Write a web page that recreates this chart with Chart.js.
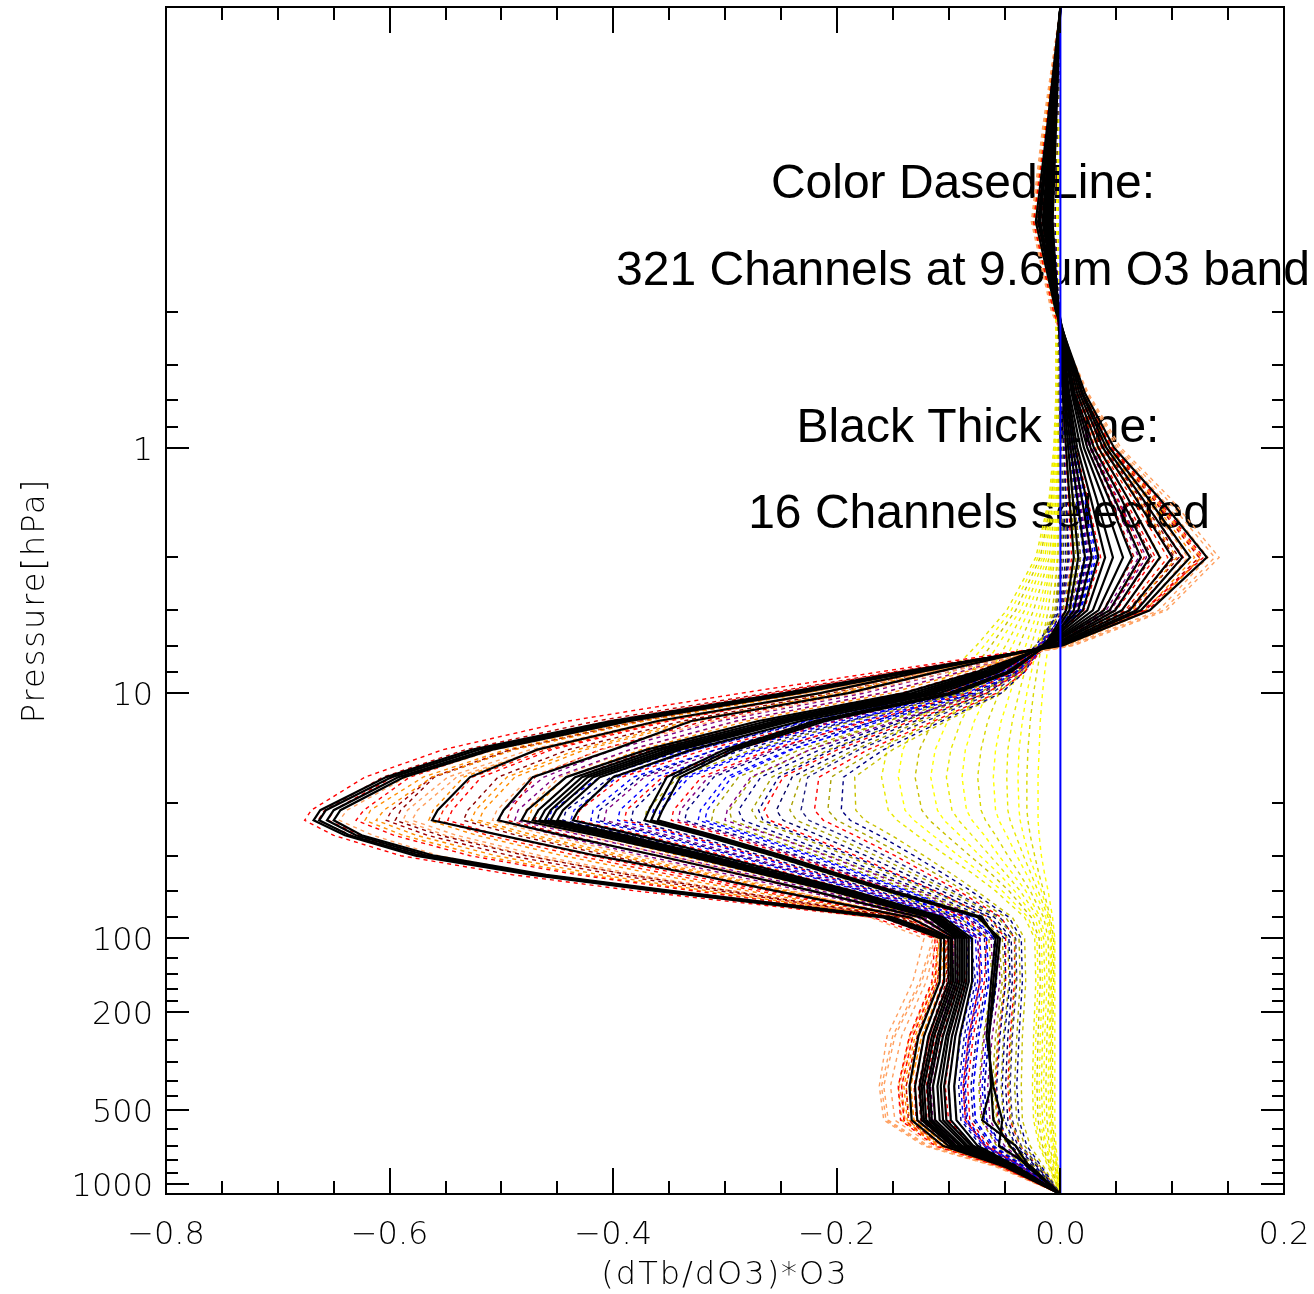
<!DOCTYPE html>
<html>
<head>
<meta charset="utf-8">
<title>O3 Jacobians</title>
<script src="https://cdn.jsdelivr.net/npm/chart.js@4.4.0/dist/chart.umd.min.js"></script>
<style>
  body { margin: 0; background: #fff; }
  canvas { display: block; }
</style>
</head>
<body>
<canvas id="jac" width="1314" height="1294"></canvas>
<script>
// pressure levels (hPa) shared by every profile
const pressure = [0.016, 0.05, 0.12, 0.28, 0.6, 1, 1.6, 2.8, 4.6, 6.4, 8.2, 10, 13, 17, 22, 30, 33, 38, 46, 55, 64, 82, 100, 150, 250, 400, 550, 700, 850, 1100];

// 16 selected channels, (dTb/dO3)*O3 at each level
const selectedProfiles = [
  [0,-.012,-.022,-.004,.022,.048,.088,.131,.080,.002,-.141,-.247,-.402,-.526,-.603,-.662,-.668,-.640,-.577,-.474,-.362,-.159,-.107,-.108,-.127,-.135,-.133,-.105,-.050,0],
  [0,-.011,-.020,-.003,.020,.044,.078,.116,.072,.000,-.138,-.243,-.396,-.520,-.598,-.657,-.663,-.636,-.572,-.470,-.358,-.156,-.104,-.104,-.122,-.130,-.128,-.100,-.048,0],
  [0,-.010,-.019,-.003,.019,.041,.073,.109,.068,-.002,-.135,-.238,-.390,-.513,-.592,-.650,-.656,-.630,-.566,-.465,-.352,-.152,-.100,-.100,-.118,-.126,-.124,-.097,-.046,0],
  [0,-.010,-.018,-.002,.017,.038,.067,.100,.062,-.004,-.132,-.234,-.385,-.508,-.587,-.644,-.650,-.625,-.560,-.460,-.348,-.150,-.097,-.096,-.113,-.122,-.120,-.094,-.045,0],
  [0,-.009,-.016,-.002,.015,.034,.060,.089,.055,-.006,-.125,-.215,-.360,-.468,-.528,-.557,-.562,-.500,-.415,-.325,-.255,-.135,-.098,-.098,-.115,-.124,-.122,-.096,-.047,0],
  [0,-.009,-.015,-.002,.013,.030,.054,.080,.049,-.007,-.110,-.190,-.330,-.400,-.472,-.498,-.503,-.445,-.360,-.285,-.222,-.125,-.094,-.094,-.110,-.119,-.117,-.093,-.046,0],
  [0,-.008,-.014,-.002,.012,.027,.048,.072,.044,-.010,-.075,-.140,-.270,-.370,-.442,-.477,-.482,-.415,-.335,-.265,-.205,-.118,-.092,-.092,-.108,-.117,-.115,-.090,-.045,0],
  [0,-.008,-.013,-.002,.011,.024,.043,.064,.039,-.011,-.070,-.133,-.262,-.362,-.434,-.467,-.472,-.408,-.330,-.262,-.202,-.116,-.090,-.090,-.105,-.114,-.112,-.088,-.044,0],
  [0,-.007,-.012,-.001,.010,.021,.038,.056,.034,-.012,-.066,-.127,-.255,-.356,-.428,-.461,-.466,-.402,-.326,-.258,-.199,-.114,-.088,-.088,-.102,-.110,-.108,-.085,-.043,0],
  [0,-.007,-.012,-.001,.008,.018,.032,.047,.029,-.013,-.063,-.122,-.250,-.350,-.423,-.456,-.461,-.398,-.322,-.255,-.196,-.112,-.086,-.086,-.100,-.107,-.105,-.083,-.042,0],
  [0,-.006,-.011,-.001,.007,.015,.027,.040,.024,-.014,-.060,-.118,-.245,-.345,-.418,-.451,-.456,-.394,-.318,-.252,-.193,-.110,-.084,-.084,-.097,-.104,-.102,-.080,-.041,0],
  [0,-.006,-.011,-.001,.006,.013,.023,.034,.020,-.015,-.058,-.114,-.240,-.340,-.412,-.445,-.450,-.389,-.314,-.248,-.190,-.108,-.082,-.082,-.094,-.100,-.098,-.078,-.040,0],
  [0,-.006,-.010,-.001,.005,.011,.019,.028,.016,-.016,-.055,-.108,-.232,-.330,-.400,-.431,-.436,-.378,-.306,-.242,-.186,-.105,-.079,-.079,-.090,-.095,-.093,-.074,-.039,0],
  [0,-.005,-.009,-.002,.004,.009,.015,.022,.012,-.012,-.048,-.100,-.220,-.300,-.352,-.368,-.372,-.320,-.257,-.203,-.155,-.074,-.054,-.058,-.064,-.062,-.060,-.045,-.030,0],
  [0,-.005,-.008,-.002,.003,.007,.011,.016,.008,-.013,-.046,-.097,-.215,-.295,-.346,-.362,-.366,-.315,-.252,-.199,-.152,-.072,-.056,-.060,-.064,-.062,-.070,-.040,-.028,0],
  [0,-.004,-.007,-.002,.002,.005,.008,.012,.005,-.014,-.044,-.094,-.210,-.290,-.340,-.356,-.360,-.310,-.248,-.196,-.150,-.070,-.058,-.062,-.066,-.060,-.052,-.055,-.026,0]
];

// the 9.6um band channels, grouped by strength
const strongChannels = [
  [0,-.013,-.024,-.006,.020,.046,.086,.128,.074,-.004,-.162,-.285,-.440,-.552,-.622,-.670,-.676,-.650,-.590,-.490,-.380,-.168,-.112,-.115,-.135,-.145,-.143,-.112,-.054,0],
  [0,-.012,-.021,-.004,.020,.045,.082,.124,.076,.001,-.150,-.262,-.415,-.532,-.606,-.658,-.664,-.634,-.570,-.468,-.356,-.158,-.106,-.110,-.128,-.138,-.136,-.106,-.052,0],
  [0,-.016,-.026,-.008,.025,.054,.098,.142,.095,.012,-.120,-.228,-.382,-.505,-.585,-.638,-.645,-.615,-.556,-.462,-.358,-.170,-.122,-.132,-.155,-.162,-.158,-.122,-.058,0],
  [0,-.011,-.020,-.004,.018,.040,.073,.110,.066,-.003,-.140,-.250,-.392,-.508,-.582,-.623,-.630,-.596,-.528,-.432,-.328,-.150,-.103,-.105,-.122,-.130,-.128,-.100,-.049,0],
  [0,-.014,-.024,-.006,.021,.046,.084,.126,.080,.004,-.128,-.228,-.372,-.488,-.562,-.605,-.612,-.576,-.505,-.412,-.315,-.150,-.108,-.114,-.135,-.145,-.142,-.110,-.053,0],
  [0,-.010,-.018,-.003,.017,.037,.068,.102,.060,-.004,-.132,-.230,-.375,-.490,-.560,-.590,-.595,-.555,-.478,-.386,-.296,-.142,-.100,-.101,-.117,-.125,-.123,-.097,-.047,0],
  [0,-.015,-.025,-.007,.024,.052,.094,.138,.092,.010,-.115,-.210,-.355,-.465,-.540,-.575,-.580,-.540,-.465,-.378,-.292,-.150,-.112,-.124,-.148,-.158,-.154,-.118,-.056,0],
  [0,-.013,-.022,-.005,.019,.042,.077,.116,.072,.002,-.122,-.215,-.358,-.466,-.534,-.561,-.565,-.522,-.445,-.360,-.280,-.142,-.104,-.110,-.130,-.140,-.137,-.106,-.051,0],
  [0,-.010,-.018,-.003,.014,.031,.057,.085,.050,-.006,-.124,-.214,-.350,-.455,-.518,-.544,-.548,-.502,-.420,-.336,-.262,-.136,-.100,-.100,-.117,-.126,-.124,-.097,-.047,0],
  [0,-.009,-.017,-.003,.014,.030,.055,.082,.048,-.007,-.118,-.205,-.338,-.440,-.503,-.530,-.534,-.486,-.404,-.322,-.252,-.134,-.098,-.099,-.115,-.124,-.122,-.095,-.046,0],
  [0,-.012,-.021,-.005,.017,.038,.069,.104,.064,.000,-.110,-.196,-.326,-.425,-.488,-.516,-.520,-.470,-.390,-.310,-.244,-.134,-.102,-.108,-.128,-.138,-.135,-.104,-.050,0],
  [0,-.014,-.024,-.006,.021,.046,.083,.124,.080,.006,-.100,-.182,-.310,-.410,-.474,-.504,-.508,-.458,-.380,-.304,-.240,-.138,-.110,-.120,-.142,-.152,-.148,-.114,-.054,0],
  [0,-.009,-.016,-.002,.012,.027,.050,.075,.044,-.008,-.108,-.188,-.318,-.412,-.470,-.492,-.495,-.440,-.362,-.287,-.224,-.126,-.096,-.097,-.112,-.120,-.118,-.093,-.046,0],
  [0,-.008,-.015,-.002,.012,.026,.047,.070,.041,-.009,-.090,-.160,-.290,-.385,-.452,-.485,-.488,-.428,-.350,-.276,-.214,-.122,-.092,-.093,-.108,-.116,-.114,-.090,-.045,0],
  [0,-.011,-.019,-.004,.015,.033,.060,.090,.055,-.004,-.085,-.152,-.280,-.375,-.442,-.473,-.476,-.416,-.340,-.268,-.208,-.122,-.098,-.104,-.124,-.134,-.131,-.101,-.049,0],
  [0,-.008,-.014,-.002,.011,.024,.044,.066,.038,-.010,-.078,-.142,-.270,-.366,-.434,-.467,-.470,-.408,-.332,-.262,-.203,-.118,-.090,-.091,-.106,-.114,-.112,-.088,-.044,0],
  [0,-.012,-.022,-.005,.021,.046,.084,.126,.078,.003,-.146,-.256,-.404,-.522,-.597,-.650,-.655,-.626,-.562,-.462,-.350,-.160,-.110,-.112,-.132,-.142,-.140,-.110,-.053,0],
  [0,-.013,-.023,-.006,.020,.044,.080,.120,.076,.002,-.132,-.234,-.380,-.496,-.570,-.617,-.622,-.588,-.518,-.424,-.322,-.152,-.108,-.112,-.132,-.142,-.139,-.108,-.052,0],
  [0,-.010,-.018,-.003,.018,.039,.071,.106,.063,-.004,-.136,-.235,-.378,-.492,-.562,-.598,-.603,-.566,-.492,-.398,-.305,-.145,-.101,-.102,-.118,-.127,-.125,-.098,-.048,0],
  [0,-.015,-.025,-.007,.023,.050,.090,.132,.088,.008,-.118,-.216,-.362,-.474,-.548,-.584,-.588,-.550,-.475,-.386,-.298,-.152,-.114,-.126,-.150,-.160,-.156,-.120,-.057,0],
  [0,-.010,-.017,-.003,.016,.035,.064,.096,.058,-.004,-.124,-.214,-.354,-.460,-.526,-.552,-.556,-.512,-.432,-.348,-.271,-.139,-.102,-.104,-.122,-.131,-.129,-.100,-.048,0],
  [0,-.012,-.021,-.005,.017,.037,.067,.100,.061,-.002,-.114,-.200,-.332,-.432,-.495,-.523,-.527,-.478,-.397,-.316,-.248,-.134,-.100,-.105,-.124,-.134,-.131,-.101,-.049,0],
  [0,-.008,-.015,-.002,.013,.028,.051,.077,.045,-.008,-.100,-.175,-.305,-.400,-.462,-.498,-.502,-.450,-.372,-.296,-.230,-.128,-.095,-.096,-.110,-.118,-.116,-.091,-.045,0],
  [0,-.013,-.022,-.005,.019,.042,.076,.114,.072,.003,-.088,-.160,-.288,-.384,-.448,-.478,-.482,-.425,-.350,-.280,-.222,-.130,-.104,-.112,-.134,-.144,-.140,-.108,-.052,0]
];
const strongColors = ['#ff0000','#c00000','#ffa060','#ff0000','#ff8c00','#8b0000','#ffa060','#ff8c00',
                      '#ff0000','#8b0000','#ff8c00','#ffa060','#e00000','#800080','#ff8c00','#c00000',
                      '#ff0000','#ff8c00','#a00000','#ffa060','#ff2000','#ff8c00','#800080','#ffa060'];

const midChannels = [
  [0,-.006,-.010,-.002,.006,.013,.022,.032,.018,-.014,-.058,-.112,-.228,-.335,-.412,-.455,-.458,-.394,-.318,-.252,-.195,-.112,-.084,-.082,-.094,-.100,-.098,-.078,-.040,0],
  [0,-.005,-.009,-.001,.005,.011,.019,.027,.015,-.015,-.056,-.108,-.222,-.326,-.402,-.442,-.445,-.383,-.309,-.245,-.189,-.109,-.080,-.076,-.086,-.091,-.089,-.071,-.037,0],
  [0,-.006,-.010,-.002,.006,.014,.024,.036,.021,-.012,-.054,-.105,-.215,-.318,-.392,-.430,-.432,-.372,-.300,-.238,-.184,-.106,-.082,-.085,-.097,-.103,-.100,-.079,-.040,0],
  [0,-.005,-.009,-.001,.005,.012,.020,.030,.017,-.014,-.052,-.101,-.208,-.308,-.382,-.418,-.420,-.362,-.292,-.231,-.178,-.103,-.076,-.074,-.084,-.089,-.087,-.069,-.036,0],
  [0,-.005,-.009,-.001,.004,.010,.017,.026,.014,-.015,-.050,-.098,-.202,-.300,-.372,-.406,-.408,-.351,-.284,-.224,-.173,-.100,-.074,-.072,-.082,-.087,-.085,-.068,-.035,0],
  [0,-.005,-.009,-.001,.005,.011,.019,.028,.016,-.013,-.048,-.094,-.196,-.292,-.362,-.394,-.396,-.341,-.275,-.218,-.168,-.097,-.072,-.070,-.080,-.085,-.083,-.066,-.034,0],
  [0,-.004,-.008,-.001,.004,.009,.016,.024,.013,-.014,-.046,-.090,-.190,-.284,-.352,-.382,-.384,-.331,-.267,-.211,-.163,-.094,-.068,-.066,-.075,-.080,-.078,-.062,-.033,0],
  [0,-.004,-.008,-.002,.003,.007,.012,.018,.009,-.015,-.045,-.088,-.185,-.276,-.342,-.370,-.372,-.320,-.259,-.205,-.158,-.091,-.064,-.061,-.069,-.073,-.071,-.057,-.030,0],
  [0,-.004,-.008,-.001,.004,.009,.016,.024,.013,-.013,-.043,-.084,-.178,-.268,-.332,-.358,-.360,-.310,-.250,-.198,-.153,-.088,-.066,-.064,-.073,-.078,-.076,-.060,-.032,0],
  [0,-.005,-.009,-.002,.005,.011,.019,.028,.016,-.011,-.042,-.082,-.172,-.260,-.321,-.346,-.348,-.300,-.242,-.191,-.148,-.085,-.066,-.068,-.078,-.083,-.081,-.064,-.034,0],
  [0,-.004,-.007,-.001,.003,.007,.012,.018,.009,-.013,-.040,-.078,-.166,-.251,-.310,-.334,-.336,-.289,-.234,-.185,-.143,-.082,-.060,-.057,-.064,-.068,-.066,-.053,-.029,0],
  [0,-.004,-.007,-.001,.003,.008,.014,.021,.011,-.012,-.039,-.076,-.160,-.242,-.299,-.322,-.324,-.279,-.225,-.178,-.138,-.079,-.059,-.058,-.066,-.070,-.068,-.054,-.029,0],
  [0,-.004,-.007,-.002,.002,.005,.009,.014,.006,-.013,-.038,-.073,-.154,-.233,-.288,-.310,-.312,-.269,-.217,-.172,-.133,-.076,-.055,-.052,-.058,-.061,-.059,-.047,-.026,0],
  [0,-.004,-.007,-.001,.003,.007,.012,.018,.009,-.012,-.036,-.070,-.148,-.224,-.277,-.298,-.300,-.258,-.209,-.165,-.128,-.074,-.056,-.054,-.061,-.065,-.063,-.050,-.027,0],
  [0,-.006,-.010,-.002,.006,.013,.022,.032,.018,-.016,-.062,-.120,-.226,-.326,-.396,-.435,-.438,-.377,-.304,-.241,-.186,-.107,-.080,-.078,-.089,-.095,-.093,-.074,-.038,0],
  [0,-.005,-.009,-.001,.004,.010,.017,.025,.012,-.018,-.060,-.115,-.214,-.308,-.376,-.412,-.414,-.357,-.288,-.228,-.176,-.101,-.074,-.072,-.081,-.086,-.084,-.067,-.035,0],
  [0,-.005,-.009,-.002,.005,.011,.019,.028,.015,-.015,-.056,-.108,-.200,-.290,-.356,-.388,-.390,-.336,-.271,-.214,-.166,-.096,-.072,-.072,-.082,-.087,-.085,-.067,-.035,0],
  [0,-.004,-.008,-.001,.004,.009,.016,.024,.010,-.018,-.055,-.102,-.188,-.272,-.336,-.364,-.366,-.315,-.254,-.201,-.156,-.090,-.066,-.064,-.073,-.078,-.076,-.060,-.032,0],
  [0,-.004,-.008,-.001,.004,.009,.015,.022,.008,-.019,-.052,-.096,-.176,-.256,-.315,-.340,-.342,-.294,-.238,-.188,-.146,-.084,-.062,-.060,-.068,-.072,-.070,-.056,-.030,0],
  [0,-.004,-.007,-.001,.003,.007,.012,.018,.006,-.020,-.050,-.090,-.166,-.240,-.294,-.316,-.318,-.274,-.221,-.175,-.136,-.078,-.058,-.057,-.064,-.068,-.066,-.053,-.028,0],
  [0,-.003,-.006,-.002,.002,.005,.008,.012,.002,-.022,-.048,-.086,-.155,-.224,-.275,-.296,-.294,-.257,-.207,-.163,-.126,-.071,-.052,-.050,-.056,-.059,-.057,-.046,-.025,0],
  [0,-.003,-.005,-.002,.001,.003,.005,.007,.000,-.022,-.046,-.080,-.140,-.204,-.252,-.270,-.266,-.232,-.187,-.147,-.113,-.063,-.046,-.045,-.050,-.052,-.050,-.040,-.022,0]
];
const midColors = ['#0000ff','#000080','#ff0000','#0000ff','#800080','#0000ff','#000080',
                   '#a8a000','#0000ff','#ff0000','#000080','#0000ff','#a8a000','#800080',
                   '#2020ff','#000080','#ff0000','#0000ff','#800080','#0000ff','#a8a000','#000080'];

const weakChannels = [
  [0,-.003,-.006,-.002,.001,.003,.005,.008,.002,-.016,-.040,-.072,-.145,-.215,-.268,-.288,-.284,-.248,-.200,-.158,-.122,-.068,-.050,-.049,-.054,-.057,-.055,-.044,-.024,0],
  [0,-.003,-.006,-.002,.000,.002,.004,.006,.000,-.017,-.040,-.070,-.140,-.207,-.258,-.276,-.271,-.237,-.191,-.151,-.116,-.064,-.047,-.046,-.051,-.053,-.051,-.041,-.023,0],
  [0,-.003,-.005,-.002,.002,.004,.007,.010,.004,-.013,-.036,-.066,-.134,-.199,-.248,-.265,-.260,-.227,-.183,-.145,-.112,-.064,-.049,-.049,-.055,-.058,-.056,-.045,-.025,0],
  [0,-.003,-.005,-.002,.000,.002,.003,.005,-.001,-.017,-.038,-.066,-.130,-.192,-.240,-.254,-.248,-.216,-.174,-.137,-.106,-.059,-.044,-.043,-.047,-.049,-.047,-.038,-.021,0],
  [0,-.003,-.005,-.002,-.001,.000,.001,.002,-.004,-.019,-.038,-.064,-.125,-.184,-.232,-.242,-.236,-.205,-.165,-.130,-.100,-.056,-.041,-.040,-.044,-.046,-.044,-.036,-.020,0],
  [0,-.003,-.005,-.002,.000,.001,.002,.003,-.003,-.017,-.036,-.061,-.120,-.180,-.226,-.232,-.225,-.195,-.157,-.124,-.096,-.054,-.040,-.039,-.043,-.045,-.043,-.035,-.019,0],
  [0,-.003,-.005,-.002,.001,.003,.005,.007,.001,-.014,-.032,-.057,-.113,-.172,-.216,-.220,-.212,-.184,-.148,-.117,-.091,-.053,-.041,-.041,-.045,-.047,-.045,-.036,-.020,0],
  [0,-.003,-.005,-.002,-.001,-.001,.000,.000,-.005,-.018,-.034,-.056,-.110,-.165,-.205,-.208,-.200,-.173,-.140,-.110,-.086,-.049,-.037,-.036,-.039,-.041,-.039,-.032,-.018,0],
  [0,-.003,-.005,-.002,-.001,.000,.000,.001,-.004,-.017,-.032,-.053,-.106,-.158,-.194,-.196,-.188,-.162,-.131,-.103,-.080,-.046,-.035,-.034,-.037,-.039,-.037,-.030,-.017,0],
  [0,-.003,-.005,-.002,-.002,-.002,-.002,-.002,-.007,-.019,-.033,-.052,-.102,-.150,-.184,-.183,-.175,-.151,-.122,-.096,-.075,-.043,-.032,-.031,-.034,-.035,-.034,-.027,-.015,0]
];
const weakColors = ['#000080','#a8a000','#ff0000','#000060','#a8a000','#202080','#ff0000','#a8a000','#000080','#c8c000'];

const faintChannels = [
  [0,-.003,-.006,-.004,-.004,-.006,-.010,-.022,-.048,-.075,-.098,-.118,-.140,-.155,-.160,-.154,-.146,-.128,-.102,-.077,-.058,-.032,-.023,-.022,-.024,-.025,-.024,-.019,-.011,0],
  [0,-.003,-.006,-.004,-.004,-.005,-.009,-.020,-.044,-.068,-.088,-.106,-.127,-.141,-.145,-.139,-.131,-.114,-.091,-.069,-.052,-.029,-.021,-.020,-.022,-.023,-.022,-.018,-.010,0],
  [0,-.003,-.005,-.003,-.003,-.005,-.008,-.018,-.040,-.062,-.080,-.095,-.114,-.126,-.130,-.124,-.117,-.102,-.081,-.061,-.046,-.026,-.019,-.018,-.020,-.021,-.020,-.016,-.009,0],
  [0,-.003,-.005,-.003,-.003,-.004,-.007,-.016,-.036,-.056,-.072,-.085,-.101,-.112,-.116,-.110,-.104,-.090,-.072,-.054,-.041,-.023,-.017,-.016,-.018,-.019,-.018,-.014,-.008,0],
  [0,-.002,-.005,-.003,-.003,-.004,-.006,-.014,-.032,-.049,-.063,-.075,-.089,-.098,-.102,-.097,-.091,-.079,-.063,-.048,-.036,-.020,-.015,-.014,-.016,-.017,-.016,-.013,-.007,0],
  [0,-.002,-.004,-.003,-.003,-.003,-.005,-.012,-.028,-.043,-.055,-.065,-.077,-.085,-.088,-.084,-.079,-.068,-.055,-.042,-.031,-.018,-.013,-.012,-.014,-.015,-.014,-.011,-.006,0],
  [0,-.002,-.004,-.002,-.002,-.003,-.004,-.010,-.024,-.037,-.047,-.055,-.065,-.071,-.074,-.071,-.067,-.058,-.047,-.036,-.027,-.015,-.011,-.010,-.012,-.013,-.012,-.010,-.005,0],
  [0,-.002,-.003,-.002,-.002,-.002,-.003,-.008,-.020,-.031,-.039,-.045,-.053,-.058,-.060,-.058,-.055,-.048,-.039,-.030,-.023,-.013,-.009,-.009,-.010,-.011,-.010,-.008,-.004,0],
  [0,-.002,-.003,-.002,-.002,-.002,-.003,-.007,-.017,-.026,-.032,-.037,-.043,-.047,-.048,-.047,-.045,-.040,-.033,-.026,-.020,-.011,-.008,-.008,-.009,-.009,-.009,-.007,-.004,0],
  [0,-.001,-.003,-.002,-.002,-.002,-.002,-.006,-.014,-.021,-.026,-.030,-.034,-.037,-.038,-.037,-.036,-.033,-.028,-.022,-.017,-.010,-.007,-.007,-.008,-.008,-.008,-.006,-.003,0],
  [0,-.001,-.002,-.001,-.001,-.001,-.002,-.005,-.011,-.017,-.021,-.024,-.027,-.029,-.030,-.030,-.029,-.027,-.023,-.019,-.015,-.009,-.006,-.006,-.007,-.007,-.007,-.005,-.003,0],
  [0,-.001,-.002,-.001,-.001,-.001,-.001,-.003,-.007,-.011,-.014,-.016,-.018,-.019,-.020,-.020,-.020,-.019,-.017,-.014,-.011,-.007,-.005,-.005,-.005,-.005,-.005,-.004,-.002,0]
];
const faintColors = ['#e8e800','#ffff00','#c8c000','#ffff00','#e8e800','#ffff00','#d8d800','#ffff00','#e8e800','#ffff00','#d8d800','#ffff00'];

// axes
const xRange = [-0.8, 0.2];
const pRange = [0.016, 1100];
const xMajor = [-0.8, -0.6, -0.4, -0.2, 0.0, 0.2];
const xMinor = [-0.75,-0.7,-0.65,-0.55,-0.5,-0.45,-0.35,-0.3,-0.25,-0.15,-0.1,-0.05,0.05,0.1,0.15];
const pMajor = [1, 10, 100, 200, 500, 1000];
const pMinor = [0.28,0.46,0.64,0.82,2.8,4.6,6.4,8.2,28,46,64,82,120,140,160,180,260,320,380,440,600,700,800,900];

const notes = [
  { text: 'Color Dased Line:', x: 963, y: 198 },
  { text: '321 Channels at 9.6um O3 band', x: 963, y: 285 },
  { text: 'Black Thick Line:', x: 978, y: 442 },
  { text: '16 Channels selected', x: 979, y: 528 }
];

function profile(values) {
  return pressure.map((p, i) => ({ x: values[i], y: p }));
}

const datasets = [];
datasets.push({
  data: [{ x: 0, y: pRange[0] }, { x: 0, y: pRange[1] }],
  borderColor: '#0000ff', borderWidth: 2, order: 0
});
selectedProfiles.forEach(v => datasets.push({
  data: profile(v), borderColor: '#000000', borderWidth: 2.2, order: 1
}));
const groups = [[strongChannels, strongColors], [midChannels, midColors], [weakChannels, weakColors], [faintChannels, faintColors]];
groups.forEach(([rows, colors]) => rows.forEach((v, i) => datasets.push({
  data: profile(v), borderColor: colors[i % colors.length], borderWidth: 1.4, borderDash: [4, 4], order: 2
})));
datasets.forEach(d => { d.showLine = true; d.pointRadius = 0; d.tension = 0; d.fill = false; });

const tickFont = '200 32px "DejaVu Sans"';
const fmt = v => (v < 0 ? '\u2212' : '') + Math.abs(v).toFixed(1);

const framePlugin = {
  id: 'frame',
  beforeDatasetsDraw(chart) {
    const ctx = chart.ctx;
    ctx.save();
    ctx.fillStyle = '#000';
    ctx.font = '48px "Liberation Sans", Arial, sans-serif';
    ctx.textAlign = 'center';
    ctx.textBaseline = 'alphabetic';
    notes.forEach(n => ctx.fillText(n.text, n.x, n.y));
    ctx.restore();
  },
  afterDatasetsDraw(chart) {
    const { ctx, chartArea: a, scales: { x, y } } = chart;
    ctx.save();
    ctx.strokeStyle = '#000';
    ctx.lineWidth = 2;
    ctx.strokeRect(a.left, a.top, a.right - a.left, a.bottom - a.top);

    ctx.beginPath();
    const xt = (v, len) => {
      const px = Math.round(x.getPixelForValue(v));
      ctx.moveTo(px, a.bottom); ctx.lineTo(px, a.bottom - len);
      ctx.moveTo(px, a.top); ctx.lineTo(px, a.top + len);
    };
    const yt = (v, len) => {
      const py = Math.round(y.getPixelForValue(v));
      ctx.moveTo(a.left, py); ctx.lineTo(a.left + len, py);
      ctx.moveTo(a.right, py); ctx.lineTo(a.right - len, py);
    };
    xMajor.forEach(v => xt(v, 26));
    xMinor.forEach(v => xt(v, 13));
    pMajor.forEach(v => yt(v, 23));
    pMinor.forEach(v => yt(v, 12));
    ctx.stroke();

    ctx.fillStyle = '#000';
    ctx.font = tickFont;
    ctx.textBaseline = 'alphabetic';
    ctx.textAlign = 'center';
    xMajor.forEach(v => ctx.fillText(fmt(v), x.getPixelForValue(v), 1244));
    ctx.textAlign = 'right';
    pMajor.forEach(v => ctx.fillText(String(v), 153, y.getPixelForValue(v) + 12));

    ctx.textAlign = 'center';
    ctx.letterSpacing = '2px';
    ctx.fillText('(dTb/dO3)*O3', (a.left + a.right) / 2, 1284);
    ctx.translate(44, (a.top + a.bottom) / 2);
    ctx.rotate(-Math.PI / 2);
    ctx.fillText('Pressure[hPa]', 0, 0);
    ctx.restore();
  }
};

new Chart(document.getElementById('jac'), {
  type: 'scatter',
  data: { datasets },
  options: {
    responsive: false,
    animation: false,
    events: [],
    layout: { padding: { left: 166, top: 7, right: 30, bottom: 100 } },
    scales: {
      x: { type: 'linear', min: xRange[0], max: xRange[1], display: false },
      y: { type: 'logarithmic', min: pRange[0], max: pRange[1], reverse: true, display: false }
    },
    plugins: { legend: { display: false }, tooltip: { enabled: false } }
  },
  plugins: [framePlugin]
});
</script>
</body>
</html>
